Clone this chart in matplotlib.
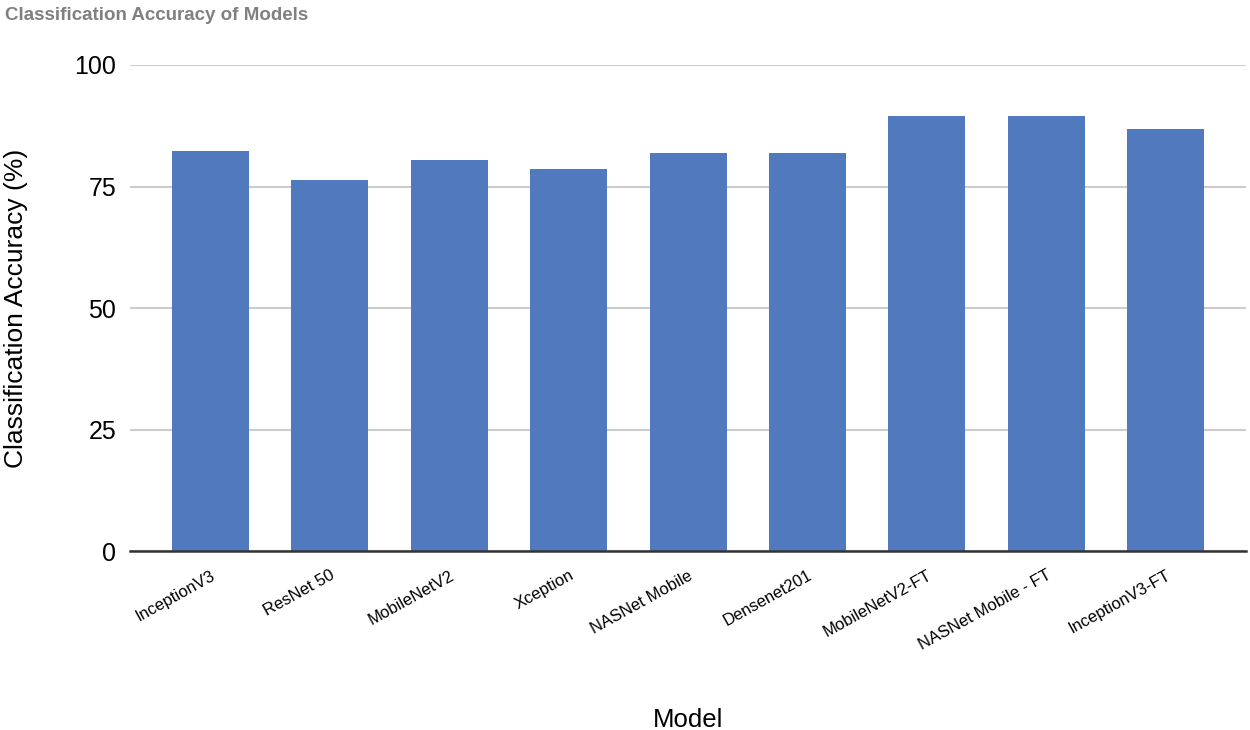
import matplotlib
matplotlib.use("Agg")
import matplotlib.pyplot as plt
import numpy as np

modelos = ["InceptionV3", "ResNet 50", "MobileNetV2", "Xception", "NASNet Mobile",
           "Densenet201", "MobileNetV2-FT", "NASNet Mobile - FT", "InceptionV3-FT"]
precision = [82.3, 76.3, 80.4, 78.6, 81.9, 81.9, 89.6, 89.6, 86.8]
ticks_y = [0, 25, 50, 75, 100]

AZUL = "#5079BE"

plt.rcParams["font.family"] = ["Liberation Sans", "DejaVu Sans"]

fig = plt.figure(figsize=(12.5, 7.3), dpi=100)
ax = fig.add_axes([0.104, 0.245, 0.893, 0.666])

x = np.arange(len(modelos))
ax.bar(x, precision, width=0.645, color=AZUL, zorder=3)

ax.set_ylim(0, 100)
ax.set_xlim(-0.674, len(modelos) - 0.326)
ax.set_yticks(ticks_y)
ax.set_yticklabels([str(t) for t in ticks_y], fontsize=18)
ax.set_xticks(x)
ax.set_xticklabels(modelos, rotation=29, ha="right", rotation_mode="anchor",
                   fontsize=12)
ax.tick_params(axis="y", length=0, pad=10)
ax.tick_params(axis="x", length=0, pad=12)

ax.grid(axis="y", color="#CCCCCC", linewidth=1.5, zorder=0)
for s in ["top", "right", "left"]:
    ax.spines[s].set_visible(False)
ax.spines["bottom"].set_color("#333333")
ax.spines["bottom"].set_linewidth(1.8)
ax.spines["bottom"].set_zorder(4)

ax.set_ylabel("Classification Accuracy (%)", fontsize=19)
ax.yaxis.set_label_coords(-0.091, 0.5)
ax.set_xlabel("Model", fontsize=18.5)
ax.xaxis.set_label_coords(0.5, -0.322)

fig.text(0.004, 0.99, "Classification Accuracy of Models", fontsize=13.5,
         color="#808080", fontweight="bold", ha="left", va="top")

fig.savefig("out.png")
